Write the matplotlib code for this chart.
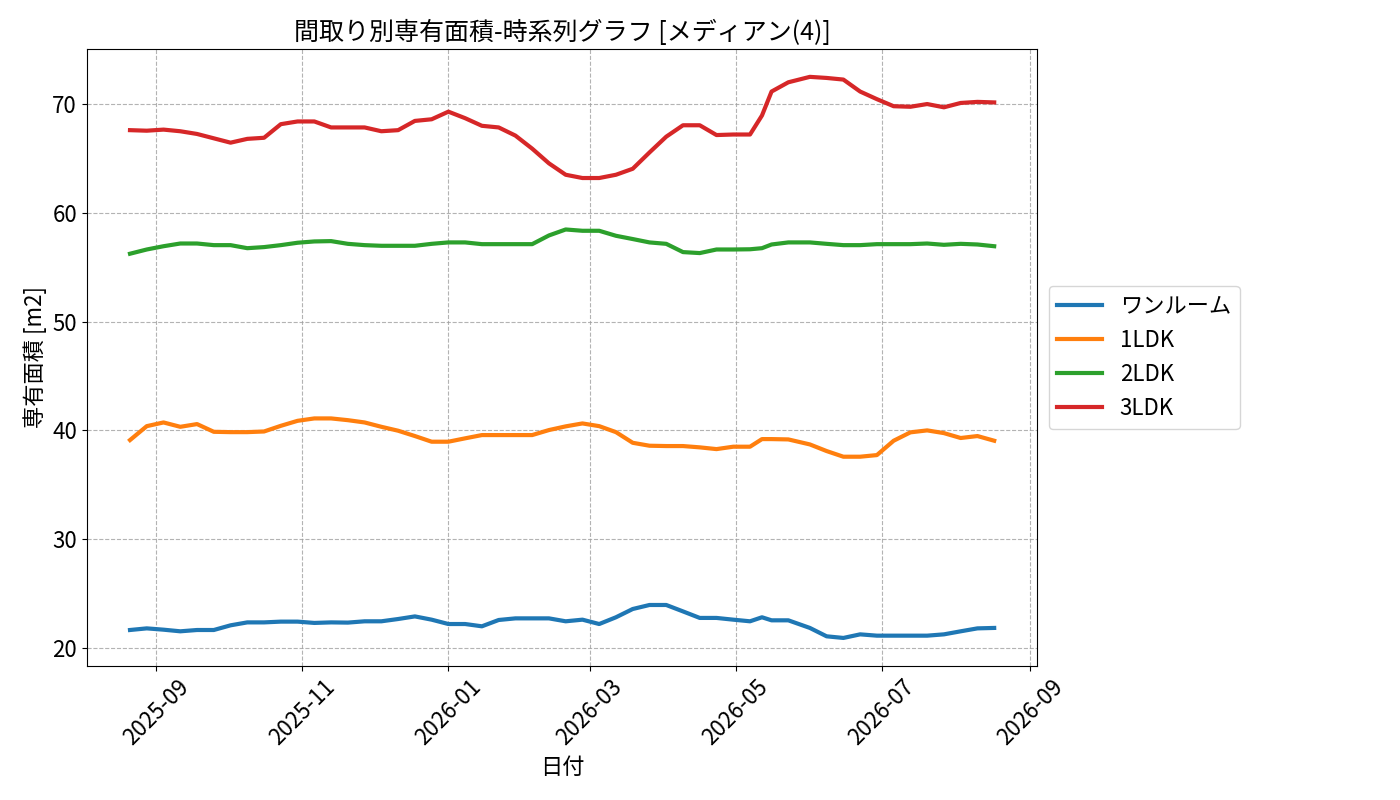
import datetime as dt
import matplotlib
matplotlib.use("Agg")
import matplotlib.pyplot as plt
import matplotlib.dates as mdates

plt.rcParams['font.family'] = ['Noto Sans CJK JP', 'DejaVu Sans']

# 日付 (2025-08-21 から毎週木曜, 5月以降は不規則)
dates = [dt.date(2025, 8, 21) + dt.timedelta(days=7 * i) for i in range(38)]
dates += [dt.date(2026, 5, 12), dt.date(2026, 5, 16), dt.date(2026, 5, 23)]
dates += [dt.date(2026, 6, 1) + dt.timedelta(days=7 * i) for i in range(12)]

one_room = [21.65, 21.8, 21.68, 21.53, 21.65, 21.65, 22.08, 22.35, 22.35, 22.42,
            22.42, 22.3, 22.35, 22.33, 22.45, 22.45, 22.66, 22.9, 22.6, 22.2,
            22.2, 21.99, 22.57, 22.72, 22.72, 22.72, 22.45, 22.6, 22.2, 22.82,
            23.58, 23.95, 23.95, 23.36, 22.76, 22.76, 22.6, 22.45,
            22.82, 22.54, 22.54,
            21.84, 21.07, 20.92, 21.25, 21.13, 21.13, 21.13, 21.13, 21.25, 21.53,
            21.8, 21.84]
ldk1 = [39.11, 40.39, 40.73, 40.33, 40.58, 39.87, 39.84, 39.84, 39.9, 40.42,
        40.88, 41.1, 41.1, 40.94, 40.73, 40.33, 39.97, 39.48, 38.96, 38.96,
        39.27, 39.57, 39.57, 39.57, 39.57, 40.03, 40.37, 40.64, 40.39, 39.84,
        38.86, 38.59, 38.56, 38.56, 38.44, 38.28, 38.5, 38.5,
        39.2, 39.2, 39.17,
        38.71, 38.1, 37.58, 37.58, 37.73, 39.05, 39.82, 40.0, 39.75, 39.3,
        39.48, 39.05]
ldk2 = [56.24, 56.63, 56.93, 57.18, 57.18, 57.03, 57.03, 56.75, 56.85, 57.03,
        57.25, 57.37, 57.4, 57.15, 57.03, 56.97, 56.97, 56.97, 57.15, 57.28,
        57.28, 57.12, 57.12, 57.12, 57.12, 57.92, 58.47, 58.35, 58.35, 57.89,
        57.59, 57.28, 57.15, 56.39, 56.3, 56.63, 56.63, 56.65,
        56.75, 57.09, 57.28,
        57.28, 57.15, 57.03, 57.03, 57.12, 57.12, 57.12, 57.18, 57.06, 57.15,
        57.09, 56.93]
ldk3 = [67.6, 67.55, 67.65, 67.5, 67.25, 66.85, 66.45, 66.8, 66.9, 68.15,
        68.4, 68.4, 67.85, 67.85, 67.85, 67.5, 67.6, 68.45, 68.6, 69.3,
        68.7, 68.0, 67.85, 67.1, 65.9, 64.55, 63.5, 63.2, 63.2, 63.5,
        64.05, 65.55, 67.0, 68.05, 68.05, 67.15, 67.2, 67.2,
        68.95, 71.15, 72.0,
        72.5, 72.4, 72.25, 71.15, 70.45, 69.8, 69.75, 70.0, 69.7, 70.1,
        70.2, 70.15]

labels = ["ワンルーム", "1LDK", "2LDK", "3LDK"]
series = [one_room, ldk1, ldk2, ldk3]

fig, ax = plt.subplots(figsize=(14, 8), dpi=100)
fig.subplots_adjust(left=0.062, right=0.741, top=0.939, bottom=0.1675)

for lab, vals in zip(labels, series):
    ax.plot(dates, vals, linewidth=3, label=lab)

ax.set_title("間取り別専有面積-時系列グラフ [メディアン(4)]", fontsize=18)
ax.set_xlabel("日付", fontsize=16)
ax.set_ylabel("専有面積 [m2]", fontsize=16)
ax.xaxis.set_major_locator(mdates.MonthLocator(bymonth=[1, 3, 5, 7, 9, 11]))
ax.xaxis.set_major_formatter(mdates.DateFormatter("%Y-%m"))
ax.tick_params(axis="both", labelsize=16)
plt.setp(ax.get_xticklabels(), rotation=45)
ax.grid(True, linestyle="--", color="#a0a0a0", alpha=0.8)
ax.legend(loc="center left", bbox_to_anchor=(1.0, 0.5), fontsize=16)

fig.savefig("out.png")
